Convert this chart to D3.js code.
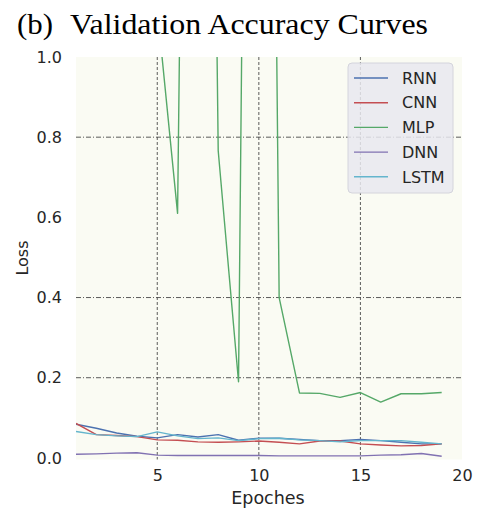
<!DOCTYPE html>
<html>
<head>
<meta charset="utf-8">
<script src="https://cdn.jsdelivr.net/npm/d3@7"></script>
<style>
  body { margin: 0; background: #fff; }
</style>
</head>
<body>
<div id="chart"></div>
<script>
// Data (epochs 1..19)
const epochs = d3.range(1, 20);
const rnn  = [0.084, 0.074, 0.062, 0.054, 0.050, 0.058, 0.052, 0.058, 0.044, 0.049, 0.049, 0.046, 0.043, 0.043, 0.046, 0.043, 0.039, 0.035, 0.035];
const cnn  = [0.086, 0.058, 0.056, 0.053, 0.045, 0.044, 0.040, 0.039, 0.040, 0.042, 0.039, 0.035, 0.042, 0.042, 0.035, 0.032, 0.030, 0.031, 0.035];
const mlp  = [2.5, 1.8, 1.5, 1.3, 1.12, 0.61, 5.0, 0.766, 0.19, 5.5, 0.40, 0.162, 0.161, 0.151, 0.163, 0.139, 0.160, 0.160, 0.163];
const dnn  = [0.009, 0.010, 0.012, 0.013, 0.007, 0.006, 0.006, 0.006, 0.006, 0.006, 0.005, 0.005, 0.005, 0.005, 0.005, 0.007, 0.008, 0.011, 0.004];
const lstm = [0.066, 0.058, 0.055, 0.053, 0.065, 0.055, 0.048, 0.050, 0.043, 0.048, 0.049, 0.045, 0.043, 0.040, 0.043, 0.043, 0.043, 0.039, 0.035];

const seriesNames = ["RNN", "CNN", "MLP", "DNN", "LSTM"];
const seriesValues = [rnn, cnn, mlp, dnn, lstm];
const colors = ["#4c72b0", "#c44e52", "#55a868", "#8172b2", "#64b5cd"];

const yTicks = [0, 0.2, 0.4, 0.6, 0.8, 1.0];
const xTicks = [5, 10, 15, 20];
const yGrid = [0.2, 0.4, 0.8];
const xGrid = [5, 10, 15];

// Dimensions of the plot area
const W = 483, H = 516;
const plotL = 76, plotR = 462, plotT = 57, plotB = 459.5;

const svg = d3.select("#chart")
    .append("svg")
    .attr("width", W)
    .attr("height", H);

// Title
svg.append("text")
    .attr("x", 17).attr("y", 34)
    .style("font-family", "'Liberation Serif', 'Times New Roman', serif")
    .style("font-size", "29px")
    .attr("fill", "#000")
    .attr("textLength", 36).attr("lengthAdjust", "spacingAndGlyphs")
    .text("(b)");
svg.append("text")
    .attr("x", 70).attr("y", 34)
    .style("font-family", "'Liberation Serif', 'Times New Roman', serif")
    .style("font-size", "29px")
    .attr("fill", "#000")
    .attr("textLength", 358).attr("lengthAdjust", "spacingAndGlyphs")
    .text("Validation Accuracy Curves");

// Scales
const x = d3.scaleLinear().domain([1, 20]).range([plotL, plotR]);
const y = d3.scaleLinear().domain([-0.004, 1.0]).range([plotB, plotT]);

// Plot background
svg.append("rect")
    .attr("x", plotL).attr("y", plotT)
    .attr("width", plotR - plotL).attr("height", plotB - plotT)
    .attr("fill", "#fafbf3");

// Clip
svg.append("clipPath").attr("id", "clip")
    .append("rect")
    .attr("x", plotL).attr("y", plotT)
    .attr("width", plotR - plotL).attr("height", plotB - plotT);

// Grid lines
svg.append("g")
    .selectAll("line")
    .data(yGrid)
    .join("line")
    .attr("x1", plotL).attr("x2", plotR)
    .attr("y1", d => y(d)).attr("y2", d => y(d))
    .attr("stroke", "#4a4a4a")
    .attr("stroke-width", 0.9)
    .attr("stroke-dasharray", "5,2,1,2");
svg.append("g")
    .selectAll("line")
    .data(xGrid)
    .join("line")
    .attr("x1", d => x(d)).attr("x2", d => x(d))
    .attr("y1", plotT).attr("y2", plotB)
    .attr("stroke", "#4a4a4a")
    .attr("stroke-width", 0.9)
    .attr("stroke-dasharray", "3,2");

// Axes
const tickFont = "'DejaVu Sans', sans-serif";
const yAxis = svg.append("g")
    .attr("transform", `translate(${plotL},0)`)
    .call(d3.axisLeft(y).tickValues(yTicks).tickFormat(d3.format(".1f")).tickSize(0).tickPadding(14));
const xAxis = svg.append("g")
    .attr("transform", `translate(0,${plotB})`)
    .call(d3.axisBottom(x).tickValues(xTicks).tickSize(0).tickPadding(10));
[yAxis, xAxis].forEach(a => {
    a.select(".domain").remove();
    a.selectAll("text")
        .style("font-family", tickFont)
        .style("font-size", "16px")
        .attr("fill", "#262626");
});

// Axis labels
svg.append("text")
    .attr("transform", "translate(28,258) rotate(-90)")
    .attr("text-anchor", "middle")
    .style("font-family", tickFont)
    .style("font-size", "16px")
    .attr("fill", "#262626")
    .text("Loss");
svg.append("text")
    .attr("x", 268).attr("y", 504)
    .attr("text-anchor", "middle")
    .style("font-family", tickFont)
    .style("font-size", "17.5px")
    .attr("fill", "#262626")
    .text("Epoches");

// Lines
const line = d3.line()
    .x(d => x(d[0]))
    .y(d => y(d[1]));

svg.append("g")
    .attr("clip-path", "url(#clip)")
    .selectAll("path")
    .data(seriesValues)
    .join("path")
    .attr("d", vals => line(epochs.map((e, i) => [e, vals[i]])))
    .attr("fill", "none")
    .attr("stroke", (d, i) => colors[i])
    .attr("stroke-width", 1.4)
    .attr("stroke-linejoin", "round");

// Legend
const lg = svg.append("g");
lg.append("rect")
    .attr("x", 348).attr("y", 63)
    .attr("width", 105).attr("height", 130)
    .attr("rx", 4)
    .attr("fill", "#e8e8ee")
    .attr("fill-opacity", 0.85)
    .attr("stroke", "#d4d4dc")
    .attr("stroke-width", 1);
const items = lg.selectAll("g.item")
    .data(seriesNames)
    .join("g")
    .attr("class", "item")
    .attr("transform", (d, i) => `translate(0,${78 + i * 24.7})`);
items.append("line")
    .attr("x1", 354).attr("x2", 388)
    .attr("y1", 0).attr("y2", 0)
    .attr("stroke", (d, i) => colors[i])
    .attr("stroke-width", 1.4);
items.append("text")
    .attr("x", 402).attr("y", 0)
    .attr("dy", "0.36em")
    .style("font-family", tickFont)
    .style("font-size", "16px")
    .attr("fill", "#262626")
    .text(d => d);
</script>
</body>
</html>
